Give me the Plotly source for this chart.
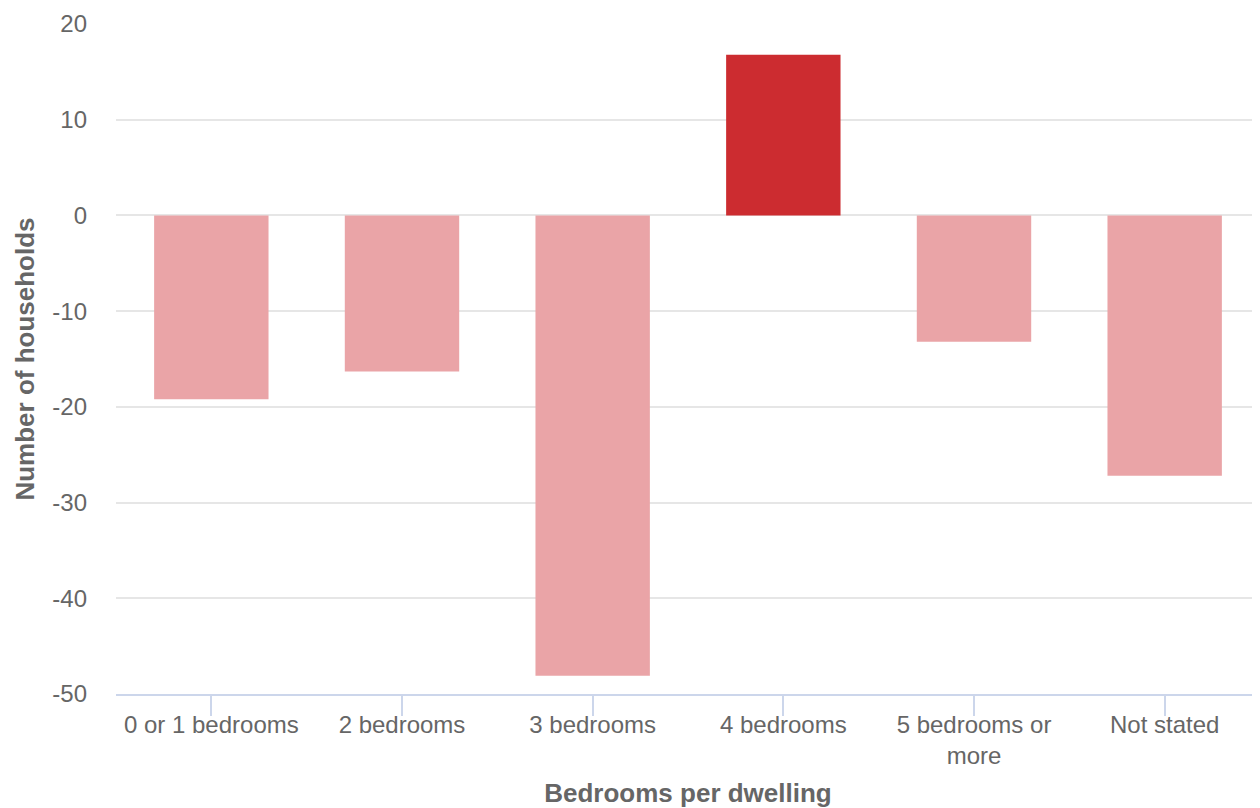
import plotly.graph_objects as go

categories = ["0 or 1 bedrooms", "2 bedrooms", "3 bedrooms", "4 bedrooms", "5 bedrooms or<br>more", "Not stated"]
values = [-19.2, -16.3, -48.1, 16.8, -13.2, -27.2]
highlight = [False, False, False, True, False, False]
y_ticks = [20, 10, 0, -10, -20, -30, -40, -50]
y_tick_labels = ["20", "10", "0", "-10", "-20", "-30", "-40", "-50"]

PALE = "#eaa4a7"
RED = "#cc2c30"
colors = [RED if h else PALE for h in highlight]

FONT = "Liberation Sans, Arial, sans-serif"
TXT = "#666666"

fig = go.Figure(go.Bar(x=categories, y=values, marker=dict(color=colors, line=dict(width=0)), width=0.6))

fig.update_layout(
    width=1252, height=800,
    margin=dict(l=108, r=0, t=16, b=114),
    plot_bgcolor="white", paper_bgcolor="white",
    showlegend=False,
    font=dict(family=FONT, color=TXT, size=24),
    bargap=0.4,
)
fig.update_xaxes(
    showline=True, linecolor="#ccd6eb", linewidth=2,
    ticks="outside", ticklen=20, tickcolor="#ccd6eb", tickwidth=1.5,
    tickfont=dict(size=24, color=TXT, family=FONT),
    ticklabelstandoff=-12,
    showgrid=False,
    title=dict(text="<b>Bedrooms per dwelling</b>", font=dict(size=26, color=TXT, family=FONT), standoff=22),
    automargin=False,
)
fig.update_yaxes(
    range=[-50, 20], tickvals=y_ticks, ticktext=y_tick_labels,
    showgrid=True, gridcolor="#e6e6e6", gridwidth=1.5,
    zeroline=False, showline=False,
    ticks="", ticklabelstandoff=28,
    tickfont=dict(size=24, color=TXT, family=FONT),
    title=dict(text="<b>Number of households</b>", font=dict(size=26, color=TXT, family=FONT), standoff=10),
    automargin=False,
)

fig.write_html("out.html")
